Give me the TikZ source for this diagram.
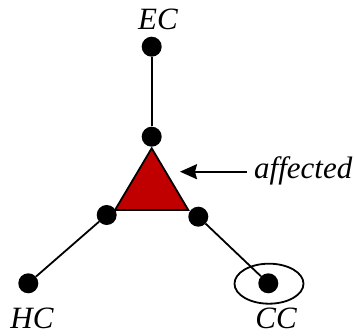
\documentclass[tikz,border=0pt]{standalone}
\usepackage{fontspec}
\setmainfont{Liberation Serif}
\usetikzlibrary{arrows.meta,shapes.geometric}
\definecolor{affred}{HTML}{C00000}
\begin{document}
\begin{tikzpicture}[x=1pt,y=-1pt,
  dotnode/.style={circle,fill=black,inner sep=0pt,minimum size=20pt},
  lbl/.style={font=\fontsize{31}{31}\selectfont\itshape,inner sep=0pt},
  conn/.style={line width=1.8pt}]
\useasboundingbox (0,0) rectangle (354,336);
\fill[affred,draw=black,line width=1.8pt,line join=miter] (151.7,148.3) -- (115,210) -- (188.3,210) -- cycle;
\node[dotnode] (ec) at (151.7,46.7) {};
\node[dotnode] (top) at (151.7,136.7) {};
\node[dotnode] (left) at (106.7,215) {};
\node[dotnode] (right) at (198.3,216.7) {};
\node[dotnode] (hc) at (28.3,283.3) {};
\node[dotnode] (cc) at (268.3,283.3) {};
\draw[conn] (ec) -- (top);
\draw[conn] (left) -- (hc);
\draw[conn] (right) -- (cc);
\node[draw,ellipse,line width=1.8pt,minimum width=69pt,minimum height=40pt,inner sep=0pt] (ring) at (269,283.7) {};
\node[lbl] (eclbl) at (158,19) {EC};
\node[lbl] (hclbl) at (32,318) {HC};
\node[lbl] (cclbl) at (276,318) {CC};
\node[lbl,anchor=west] (aff) at (254,171) {affected};
\coordinate (tail) at (246.7,171.7);
\coordinate (tip) at (180,171.7);
\draw[line width=2pt,-{Stealth[length=17pt,width=15pt,inset=2pt]}] (tail) -- (tip);
\end{tikzpicture}
\end{document}
